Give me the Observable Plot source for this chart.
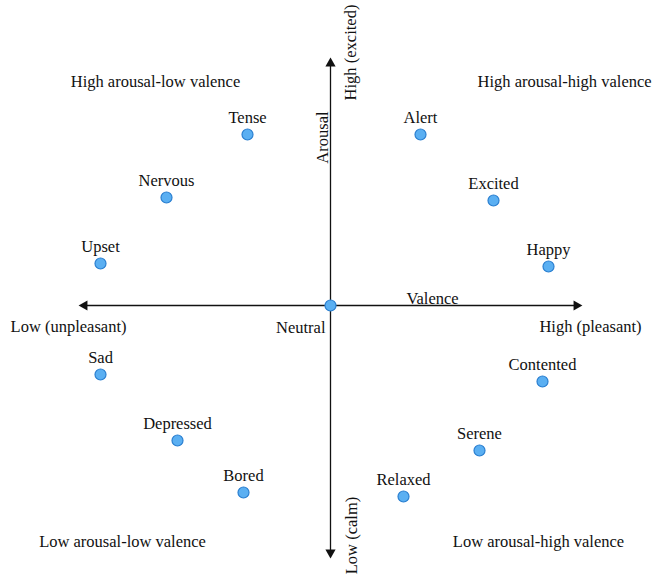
<!DOCTYPE html>
<html><head><meta charset="utf-8">
<script src="https://cdn.jsdelivr.net/npm/d3@7"></script>
<script src="https://cdn.jsdelivr.net/npm/@observablehq/plot@0.6"></script>
<style>
html,body{margin:0;padding:0;background:#fff;overflow:hidden;}
</style></head>
<body><div id="chart"></div>
<script>
// Emotions on the valence–arousal plane (axis tips at about ±1)
const emotions = ["Tense","Nervous","Upset","Alert","Excited","Happy","Neutral","Sad","Depressed","Bored","Contented","Serene","Relaxed"];
const valence  = [-0.332,-0.656,-0.92, 0.36, 0.652,0.872,0, -0.92,-0.612,-0.348,0.848, 0.596, 0.292];
const arousal  = [ 0.684, 0.432, 0.168,0.684,0.42, 0.156,0, -0.276,-0.54,-0.748,-0.304,-0.58,-0.764];

const quadrantNames = ["High arousal-low valence","High arousal-high valence","Low arousal-low valence","Low arousal-high valence"];
const quadrantX = [-0.7, 0.588, -0.832, 0.832];
const quadrantY = [0.896, 0.896, -0.944, -0.944];

const axisLabels = ["Low (unpleasant)","High (pleasant)","Valence","High (excited)","Arousal","Low (calm)"];
const axisLabelX = [-1.048, 1.04, 0.408, 0.08, -0.032, 0.084];
const axisLabelY = [-0.084, -0.084, 0.028, 1.012, 0.672, -0.92];
const axisLabelRotate = [0, 0, 0, -90, -90, -90];

// arrowhead centres at the ends of the axes
const axisTipX = [-0.984, 0.984, 0, 0];
const axisTipY = [0, 0, 0.968, -0.988];

const points = emotions.map((e,i)=>({name:e, v:valence[i], a:arousal[i]}));
const quads = quadrantNames.map((q,i)=>({q, x:quadrantX[i], y:quadrantY[i]}));
const alabels = axisLabels.map((t,i)=>({t, x:axisLabelX[i], y:axisLabelY[i], r:axisLabelRotate[i]}));
const heads = [
  {x:axisTipX[0], y:axisTipY[0], rot:-90},
  {x:axisTipX[1], y:axisTipY[1], rot:90},
  {x:axisTipX[2], y:axisTipY[2], rot:0},
  {x:axisTipX[3], y:axisTipY[3], rot:180}
];

const font = "'Liberation Serif', 'DejaVu Serif', serif";
const fs = 16.5;
const chart = Plot.plot({
  width: 660, height: 581,
  margin: 0,
  x: {domain: [-1.32, 1.32], axis: null},
  y: {domain: [-1.104, 1.22], axis: null},
  style: {fontFamily: font, fontSize: fs + "px", color: "#111", background: "#fff"},
  marks: [
    Plot.ruleY([0], {x1: axisTipX[0], x2: axisTipX[1], stroke: "#111", strokeWidth: 1.3}),
    Plot.ruleX([0], {y1: axisTipY[3], y2: axisTipY[2], stroke: "#111", strokeWidth: 1.3}),
    Plot.dot(heads, {x: "x", y: "y", symbol: "triangle", r: 3.8, fill: "#111", stroke: "none", rotate: "rot"}),
    Plot.dot(points, {x: "v", y: "a", r: 5.5, fill: "#5aaff2", stroke: "#2a7fd0", strokeWidth: 1.2}),
    Plot.text(points.filter(d=>d.name!=="Neutral"), {x: "v", y: "a", text: "name", dy: -17, fill: "#111", fontSize: fs}),
    Plot.text(points.filter(d=>d.name==="Neutral"), {x: "v", y: "a", text: "name", dx: -5, dy: 22, textAnchor: "end", fill: "#111", fontSize: fs}),
    Plot.text(quads.filter((d,i)=>i!==1), {x: "x", y: "y", text: "q", fill: "#111", fontSize: fs}),
    Plot.text(quads.filter((d,i)=>i===1), {x: "x", y: "y", text: "q", textAnchor: "start", fill: "#111", fontSize: fs}),
    Plot.text(alabels, {x: "x", y: "y", text: "t", rotate: "r", fill: "#111", fontSize: fs})
  ]
});
document.getElementById("chart").appendChild(chart);
</script>
</body></html>
